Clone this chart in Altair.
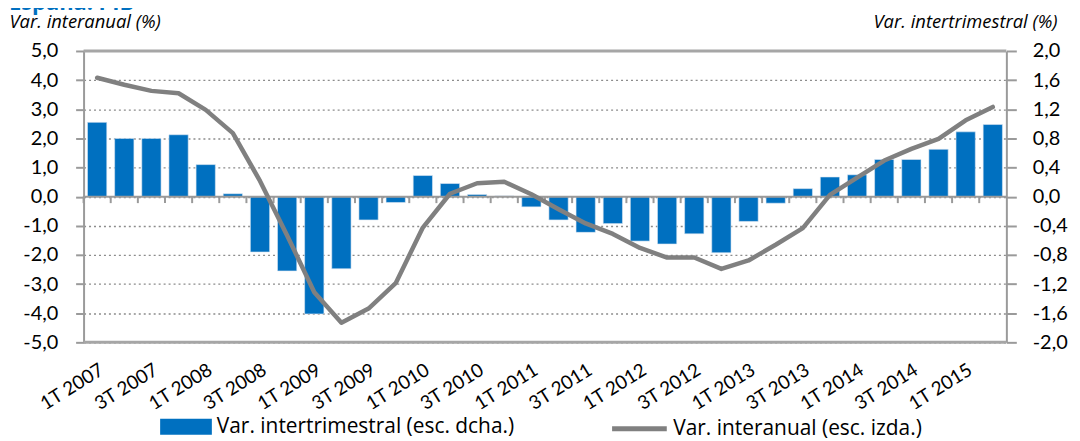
import altair as alt
import pandas as pd

# ---------------- data ----------------
quarters = [
    "1T 2007", "2T 2007", "3T 2007", "4T 2007",
    "1T 2008", "2T 2008", "3T 2008", "4T 2008",
    "1T 2009", "2T 2009", "3T 2009", "4T 2009",
    "1T 2010", "2T 2010", "3T 2010", "4T 2010",
    "1T 2011", "2T 2011", "3T 2011", "4T 2011",
    "1T 2012", "2T 2012", "3T 2012", "4T 2012",
    "1T 2013", "2T 2013", "3T 2013", "4T 2013",
    "1T 2014", "2T 2014", "3T 2014", "4T 2014",
    "1T 2015", "2T 2015",
]
labeled_quarters = [
    "1T 2007", "3T 2007", "1T 2008", "3T 2008", "1T 2009", "3T 2009",
    "1T 2010", "3T 2010", "1T 2011", "3T 2011", "1T 2012", "3T 2012",
    "1T 2013", "3T 2013", "1T 2014", "3T 2014", "1T 2015",
]
# quarter-on-quarter change (right axis)
intertrimestral = [
    1.02, 0.80, 0.80, 0.85, 0.44, 0.04, -0.76, -1.02,
    -1.61, -0.99, -0.32, -0.08, 0.29, 0.18, 0.03, 0.01,
    -0.14, -0.32, -0.49, -0.37, -0.61, -0.65, -0.51, -0.77,
    -0.34, -0.09, 0.11, 0.27, 0.30, 0.51, 0.51, 0.65,
    0.89, 0.99,
]
# year-on-year change (left axis)
interanual = [
    4.08, 3.84, 3.63, 3.55, 2.98, 2.18, 0.54, -1.33,
    -3.28, -4.33, -3.84, -2.97, -1.06, 0.10, 0.46, 0.51,
    0.08, -0.43, -0.92, -1.28, -1.76, -2.09, -2.09, -2.48,
    -2.19, -1.65, -1.08, 0.06, 0.65, 1.24, 1.64, 1.98,
    2.62, 3.08,
]
left_ticks = [-5.0, -4.0, -3.0, -2.0, -1.0, 0.0, 1.0, 2.0, 3.0, 4.0, 5.0]
right_ticks = [-2.0, -1.6, -1.2, -0.8, -0.4, 0.0, 0.4, 0.8, 1.2, 1.6, 2.0]
frame_values = [-5.0, 5.0]
zero_values = [0.0]

bar_name = "Var. intertrimestral (esc. dcha.)"
line_name = "Var. interanual (esc. izda.)"
chart_title = ["España: PIB"]

df = pd.DataFrame({
    "q": quarters,
    "inter": intertrimestral,
    "anual": interanual,
    "sb": [bar_name] * len(quarters),
    "sl": [line_name] * len(quarters),
})

# ---------------- styles ----------------
FONT = "Lato"
TFONT = "Open Sans"
BLUE = "#0070C0"
LINE_GREY = "#808080"
AXIS_GREY = "#9A9A9A"
label_expr = "replace(replace(format(datum.value, '.1f'), '.', ','), '\u2212', '-')"

x_scale = alt.Scale(paddingInner=0, paddingOuter=0)
left_scale = alt.Scale(domain=[-5, 5], nice=False, zero=False)
right_scale = alt.Scale(domain=[-2, 2], nice=False, zero=False)

x_axis = alt.Axis(
    values=labeled_quarters, labelAngle=-32, labelAlign="right",
    labelBaseline="top", labelPadding=18, ticks=False, domain=False,
    labelFont=FONT, labelFontSize=19, labelColor="#000000", title=None,
    grid=False, labelOverlap=False, labelLimit=0,
)

base = alt.Chart(df)

bars = base.mark_bar(
    width=alt.RelativeBandSize(0.71), stroke="#DCE6F2", strokeWidth=0.6
).encode(
    x=alt.X("q:N", sort=quarters, scale=x_scale, axis=x_axis),
    y=alt.Y(
        "inter:Q", scale=right_scale,
        axis=alt.Axis(
            orient="right", values=right_ticks, labelExpr=label_expr,
            labelFont=FONT, labelFontSize=20, labelColor="#000000",
            labelPadding=16, tickSize=10, tickWidth=2, tickColor=AXIS_GREY,
            domainColor=AXIS_GREY, domainWidth=2, grid=False,
            title="Var. intertrimestral (%)", titleAngle=0, titleAlign="right",
            titleBaseline="alphabetic", titleX=51, titleY=-24, titleFont=TFONT,
            titleFontSize=18.5, titleFontStyle="italic", titleFontWeight="normal",
            titleColor="#000000",
        ),
    ),
    color=alt.Color(
        "sb:N", scale=alt.Scale(domain=[bar_name], range=[BLUE]),
        legend=alt.Legend(
            orient="none", legendX=77, legendY=352, title=None,
            symbolType="M-1,-0.31H1V0.31H-1Z", symbolSize=2704,
            symbolStrokeWidth=0, labelFont=TFONT, labelFontSize=21,
            labelColor="#000000", labelOffset=5, padding=0, labelLimit=600,
        ),
    ),
)

zero_line = alt.Chart(pd.DataFrame({"v": zero_values})).mark_rule(
    color=AXIS_GREY, strokeWidth=2
).encode(y=alt.Y("v:Q", scale=left_scale, axis=None))

frame = alt.Chart(pd.DataFrame({"v": frame_values})).mark_rule(
    color="#A6A6A6", strokeWidth=3
).encode(y=alt.Y("v:Q", scale=left_scale, axis=None))

cat_ticks = base.mark_rule(color=AXIS_GREY, strokeWidth=2).encode(
    x=alt.X("q:N", sort=quarters, scale=x_scale, bandPosition=0, axis=x_axis),
    y=alt.YDatum(0, scale=left_scale, axis=None),
    y2=alt.value(153),
)

line = base.mark_line(
    strokeWidth=4.5, strokeCap="round", strokeJoin="round"
).encode(
    x=alt.X("q:N", sort=quarters, scale=x_scale, axis=x_axis),
    y=alt.Y(
        "anual:Q", scale=left_scale,
        axis=alt.Axis(
            orient="left", values=left_ticks, labelExpr=label_expr,
            labelFont=FONT, labelFontSize=20, labelColor="#000000",
            labelPadding=18, tickSize=8, tickWidth=2, tickColor=AXIS_GREY,
            domainColor=AXIS_GREY, domainWidth=2,
            grid=True, gridDash=[2, 3], gridColor="#8C8C8C", gridWidth=1.3,
            title="Var. interanual (%)", titleAngle=0, titleAlign="left",
            titleBaseline="alphabetic", titleX=-75, titleY=-24, titleFont=TFONT,
            titleFontSize=18.5, titleFontStyle="italic", titleFontWeight="normal",
            titleColor="#000000",
        ),
    ),
    stroke=alt.Stroke(
        "sl:N", scale=alt.Scale(domain=[line_name], range=[LINE_GREY]),
        legend=alt.Legend(
            orient="none", legendX=529, legendY=350, title=None,
            symbolType="stroke", symbolSize=3025, symbolStrokeWidth=5,
            labelFont=TFONT, labelFontSize=21, labelColor="#000000",
            labelOffset=4, padding=0, labelLimit=600,
        ),
    ),
)

title = alt.Chart(pd.DataFrame({"t": chart_title})).mark_text(
    align="left", baseline="alphabetic", font=TFONT, fontSize=22,
    fontWeight="bold", color=BLUE,
).encode(text="t:N", x=alt.value(-75), y=alt.value(-41))

chart = alt.layer(
    bars, zero_line, frame, cat_ticks, line, title
).resolve_scale(
    y="independent"
).properties(
    width=928, height=293,
    autosize=alt.AutoSizeParams(type="none"),
    padding={"left": 76, "top": 42, "right": 66, "bottom": 98},
).configure_view(strokeWidth=0)

chart.save("out.html", embed_options={"renderer": "svg", "actions": False})
